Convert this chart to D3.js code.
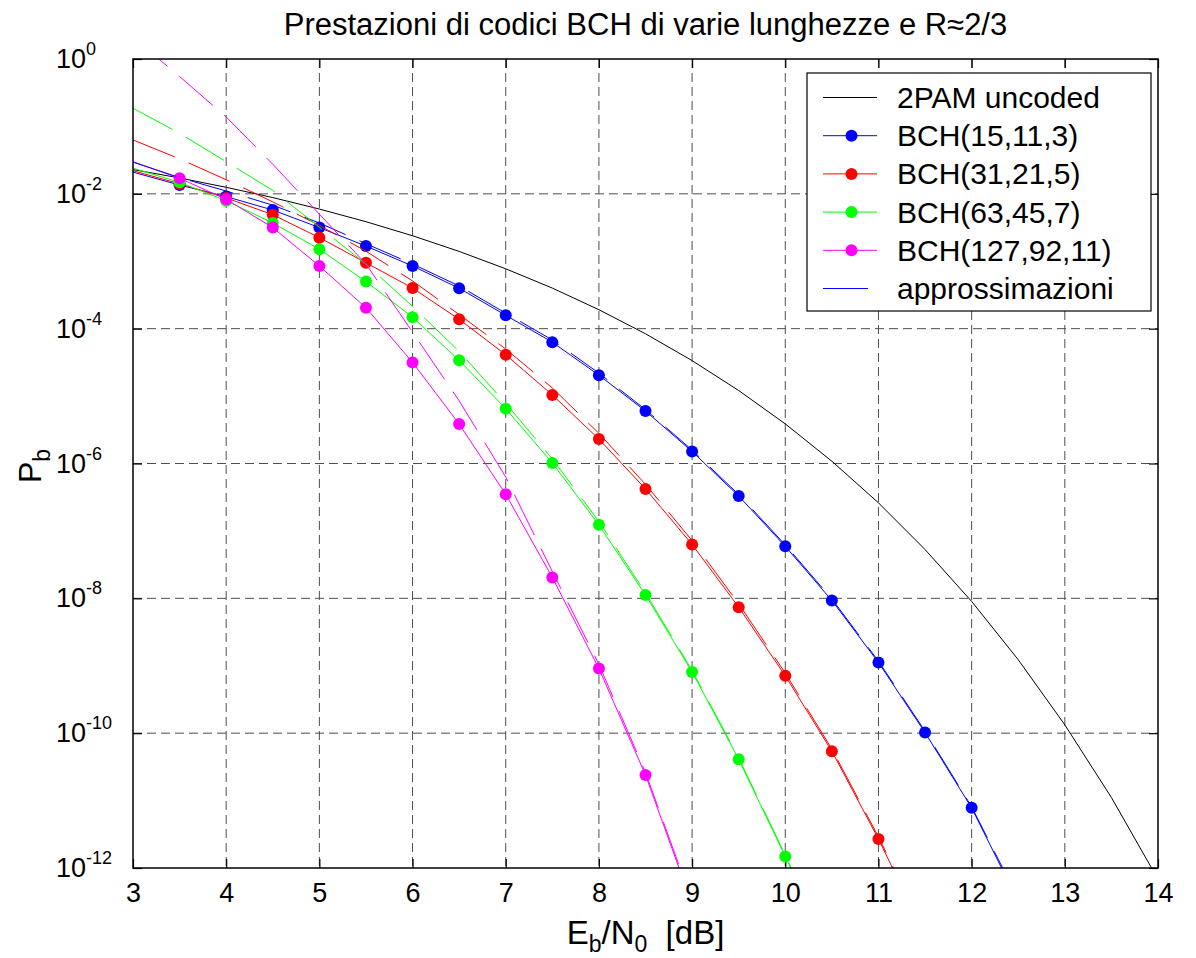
<!DOCTYPE html>
<html>
<head>
<meta charset="utf-8">
<script src="https://cdn.jsdelivr.net/npm/d3@7"></script>
<style>
  body { margin: 0; background: #fff; }
  svg text { font-family: "Liberation Sans", Arial, sans-serif; fill: #000; }
</style>
</head>
<body>
<div id="chart"></div>
<script>
// Eb/N0 grid [dB]
const ebno = [3, 3.5, 4, 4.5, 5, 5.5, 6, 6.5, 7, 7.5, 8, 8.5, 9, 9.5, 10, 10.5, 11, 11.5, 12, 12.5, 13, 13.5, 14];

const uncoded = [2.29e-2, 1.72e-2, 1.25e-2, 8.8e-3, 5.95e-3, 3.86e-3, 2.39e-3, 1.40e-3, 7.73e-4, 4.0e-4,
    1.91e-4, 8.4e-5, 3.36e-5, 1.21e-5, 3.87e-6, 1.08e-6, 2.61e-7, 5.3e-8, 9.0e-9, 1.23e-9, 1.33e-10, 1.11e-11, 6.8e-13];

// simulated / exact curves (solid with dots), from 3 dB
const bch15 = [2.1e-2, 1.35e-2, 9.1e-3, 5.75e-3, 3.16e-3, 1.68e-3, 8.5e-4, 3.98e-4, 1.58e-4, 6.3e-5,
    2.04e-5, 6.0e-6, 1.51e-6, 3.3e-7, 5.9e-8, 9.3e-9, 1.12e-9, 1.02e-10, 7.8e-12, 3.2e-13];
const bch31 = [2.2e-2, 1.41e-2, 8.7e-3, 4.9e-3, 2.24e-3, 9.5e-4, 4.0e-4, 1.38e-4, 4.1e-5, 1.04e-5,
    2.3e-6, 4.2e-7, 6.3e-8, 7.4e-9, 7.1e-10, 5.4e-11, 2.7e-12, 1.0e-13];
const bch63 = [2.4e-2, 1.48e-2, 7.9e-3, 3.7e-3, 1.51e-3, 5.0e-4, 1.48e-4, 3.4e-5, 6.5e-6, 1.02e-6,
    1.23e-7, 1.12e-8, 8.1e-10, 4.1e-11, 1.48e-12, 5.0e-14];
const bch127 = [3.0e-2, 1.70e-2, 8.3e-3, 3.16e-3, 8.5e-4, 2.04e-4, 3.16e-5, 3.85e-6, 3.5e-7, 2.04e-8,
    9.1e-10, 2.4e-11, 2.9e-13];

// approximations (dashed), from 3 dB
const apx15 = [2.95e-2, 1.74e-2, 1.10e-2, 6.8e-3, 3.7e-3, 1.82e-3, 9.1e-4, 4.3e-4, 1.70e-4, 6.8e-5,
    2.19e-5, 6.3e-6, 1.58e-6, 3.47e-7, 6.2e-8, 9.8e-9, 1.17e-9, 1.07e-10, 8.1e-12, 3.5e-13];
const apx31 = [6.3e-2, 3.3e-2, 1.62e-2, 7.6e-3, 3.4e-3, 1.41e-3, 5.1e-4, 1.62e-4, 5.0e-5, 1.32e-5,
    2.8e-6, 4.9e-7, 7.2e-8, 8.3e-9, 7.8e-10, 5.8e-11, 2.9e-12, 1.1e-13];
const apx63 = [0.186, 7.9e-2, 3.0e-2, 1.12e-2, 3.2e-3, 9.1e-4, 2.14e-4, 4.6e-5, 7.8e-6, 1.17e-6,
    1.38e-7, 1.2e-8, 8.5e-10, 4.3e-11, 1.55e-12, 5.0e-14];
const apx127 = [2.1, 0.55, 0.138, 2.75e-2, 5.0e-3, 9.1e-4, 8.9e-5, 8.5e-6, 6.3e-7, 2.5e-8,
    1.05e-9, 2.6e-11, 3.2e-13];

const codeNames = ["BCH(15,11,3)", "BCH(31,21,5)", "BCH(63,45,7)", "BCH(127,92,11)"];
const codeColors = ["#0000ff", "#ff0000", "#00ff00", "#ff00ff"];
const simSeries = [bch15, bch31, bch63, bch127];
const apxSeries = [apx15, apx31, apx63, apx127];

const xTicks = [3, 4, 5, 6, 7, 8, 9, 10, 11, 12, 13, 14];
const yTicks = [1, 1e-2, 1e-4, 1e-6, 1e-8, 1e-10, 1e-12];
const yExp = ["0", "-2", "-4", "-6", "-8", "-10", "-12"];

const W = 1196, H = 958;
const margin = {top: 59, right: 38, bottom: 90, left: 133};
const width = W - margin.left - margin.right;
const height = H - margin.top - margin.bottom;

const svg = d3.select("#chart").append("svg")
    .attr("width", W)
    .attr("height", H);

const g = svg.append("g")
    .attr("transform", `translate(${margin.left}, ${margin.top})`);

const x = d3.scaleLinear().domain([3, 14]).range([0, width]);
const y = d3.scaleLog().domain([1e-12, 1]).range([height, 0]);

svg.append("defs").append("clipPath").attr("id", "plotclip")
    .append("rect").attr("width", width).attr("height", height);

// grid
g.append("g").selectAll("line")
    .data(xTicks.slice(1, -1))
    .enter().append("line")
        .attr("x1", d => x(d)).attr("x2", d => x(d))
        .attr("y1", 0).attr("y2", height)
        .attr("stroke", "#4d4d4d")
        .attr("stroke-dasharray", "9,5");
g.append("g").selectAll("line")
    .data(yTicks.slice(1, -1))
    .enter().append("line")
        .attr("y1", d => y(d)).attr("y2", d => y(d))
        .attr("x1", 0).attr("x2", width)
        .attr("stroke", "#4d4d4d")
        .attr("stroke-dasharray", "9,5");

// axes (ticks pointing inward)
const xAxis = g.append("g")
    .attr("transform", `translate(0, ${height})`)
    .call(d3.axisBottom(x).tickValues(xTicks).tickSize(-9).tickPadding(15));
xAxis.selectAll("text").style("font-size", "27px");
g.append("g").call(d3.axisTop(x).tickValues(xTicks).tickSize(-9).tickFormat(""));
g.append("g").call(d3.axisLeft(y).tickValues(yTicks).tickSize(-9).tickFormat(""));
g.append("g").attr("transform", `translate(${width}, 0)`)
    .call(d3.axisRight(y).tickValues(yTicks).tickSize(-9).tickFormat(""));
g.selectAll(".domain").remove();
g.selectAll(".tick line").attr("stroke", "#000").attr("stroke-width", 1.2);

// y tick labels with exponent
const yLab = g.append("g").selectAll("text")
    .data(yTicks)
    .enter().append("text")
        .attr("x", -77)
        .attr("y", d => y(d) + 9)
        .style("font-size", "27px");
yLab.append("tspan").text("10");
yLab.append("tspan").attr("dy", -13).style("font-size", "18px").text((d, i) => yExp[i]);

// data lines
const line = d3.line()
    .x((d, i) => x(ebno[i]))
    .y(d => y(d));

const plot = g.append("g").attr("clip-path", "url(#plotclip)");

plot.append("path")
    .datum(uncoded)
    .attr("fill", "none")
    .attr("stroke", "#000")
    .attr("stroke-width", 1)
    .attr("d", line);

simSeries.forEach((s, k) => {
    plot.append("path")
        .datum(s)
        .attr("fill", "none")
        .attr("stroke", codeColors[k])
        .attr("stroke-width", 1)
        .attr("d", line);
    plot.append("g").selectAll("circle")
        .data(s.map((v, i) => ({x: ebno[i], v: v})).filter(d => d.x >= 3.5 && d.v >= 1e-12))
        .enter().append("circle")
            .attr("cx", d => x(d.x))
            .attr("cy", d => y(d.v))
            .attr("r", 6)
            .attr("fill", codeColors[k]);
});

apxSeries.forEach((s, k) => {
    plot.append("path")
        .datum(s)
        .attr("fill", "none")
        .attr("stroke", codeColors[k])
        .attr("stroke-width", 1)
        .attr("stroke-dasharray", "45,15")
        .attr("d", line);
});

// box
g.append("rect")
    .attr("width", width).attr("height", height)
    .attr("fill", "none")
    .attr("stroke", "#000")
    .attr("stroke-width", 1.5);

// title and labels
svg.append("text")
    .attr("x", margin.left + width / 2)
    .attr("y", 35)
    .attr("text-anchor", "middle")
    .style("font-size", "31px")
    .text("Prestazioni di codici BCH di varie lunghezze e R\u22482/3");

const xl = svg.append("text")
    .attr("x", margin.left + width / 2)
    .attr("y", 944)
    .attr("text-anchor", "middle")
    .style("font-size", "33px");
xl.append("tspan").text("E");
xl.append("tspan").attr("dy", 8).style("font-size", "23px").text("b");
xl.append("tspan").attr("dy", -8).text("/N");
xl.append("tspan").attr("dy", 8).style("font-size", "23px").text("0");
xl.append("tspan").attr("dy", -8).attr("xml:space", "preserve").text("  [dB]");

const yl = svg.append("text")
    .attr("transform", "translate(41, 466) rotate(-90)")
    .attr("text-anchor", "middle")
    .style("font-size", "32px");
yl.append("tspan").text("P");
yl.append("tspan").attr("dy", 9).style("font-size", "23px").text("b");

// legend
const legendItems = [{name: "2PAM uncoded", color: "#000", marker: false, dash: null}]
    .concat(codeNames.map((n, k) => ({name: n, color: codeColors[k], marker: true, dash: null})))
    .concat([{name: "approssimazioni", color: "#0000ff", marker: false, dash: "45,15"}]);

const leg = svg.append("g").attr("transform", "translate(807, 73)");
leg.append("rect")
    .attr("width", 344).attr("height", 238)
    .attr("fill", "#fff")
    .attr("stroke", "#000")
    .attr("stroke-width", 1.2);

const row = leg.selectAll("g.item")
    .data(legendItems)
    .enter().append("g")
        .attr("class", "item")
        .attr("transform", (d, i) => `translate(0, ${24.5 + i * 38.2})`);
row.append("line")
    .attr("x1", 16).attr("x2", 70)
    .attr("stroke", d => d.color)
    .attr("stroke-width", 1)
    .attr("stroke-dasharray", d => d.dash);
row.filter(d => d.marker).append("circle")
    .attr("cx", 44.5).attr("r", 6)
    .attr("fill", d => d.color);
row.append("text")
    .attr("x", 90).attr("y", 10.5)
    .style("font-size", "30px")
    .text(d => d.name);
</script>
</body>
</html>
